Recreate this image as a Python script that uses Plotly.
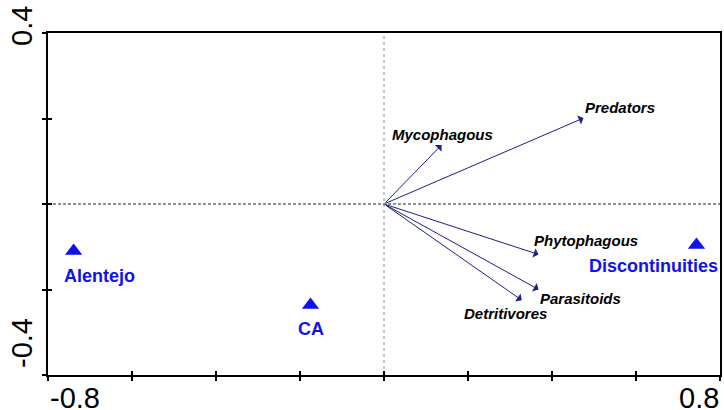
import plotly.graph_objects as go

# ---- data ----
species = ["Predators", "Mycophagous", "Phytophagous", "Parasitoids", "Detritivores"]
species_x = [0.475, 0.137, 0.368, 0.368, 0.328]
species_y = [0.201, 0.138, -0.118, -0.200, -0.225]

samples = ["Alentejo", "CA", "Discontinuities"]
samples_x = [-0.739, -0.175, 0.744]
samples_y = [-0.110, -0.236, -0.096]

x_ticks = [-0.8, -0.6, -0.4, -0.2, 0.0, 0.2, 0.4, 0.6, 0.8]
y_ticks = [-0.4, -0.2, 0.0, 0.2, 0.4]
x_tick_labels = ["-0.8", "0.8"]
y_tick_labels = ["-0.4", "0.4"]

# ---- label placement (pixel offsets from the point) ----
species_offsets = [(36, 11), (1, 11), (47, 14), (42, -9), (-16, -13)]
sample_offsets = [(26, -25), (0, -24), (-43, -21)]

ARROW = "#1f1f8a"
BLUE = "#1010f5"
FONT = "Liberation Sans, Arial, sans-serif"

fig = go.Figure()

# reference lines through the origin
fig.add_trace(go.Scatter(x=[0, 0], y=[y_ticks[0], y_ticks[-1]], mode="lines",
                         line=dict(color="#888888", width=1, dash="dot"),
                         hoverinfo="skip", showlegend=False))
fig.add_trace(go.Scatter(x=[x_ticks[0], x_ticks[-1]], y=[0, 0], mode="lines",
                         line=dict(color="#222222", width=1.2, dash="3px,2px"),
                         hoverinfo="skip", showlegend=False))

# sample triangles
fig.add_trace(go.Scatter(x=samples_x, y=samples_y, mode="markers",
                         marker=dict(symbol="triangle-up", size=15, color=BLUE,
                                     line=dict(width=0)),
                         showlegend=False, hoverinfo="skip"))

annotations = []
# species arrows
for name, sx, sy in zip(species, species_x, species_y):
    annotations.append(dict(x=sx, y=sy, ax=0, ay=0, xref="x", yref="y",
                            axref="x", ayref="y", text="", showarrow=True,
                            arrowhead=1, arrowsize=1.6, arrowwidth=1,
                            arrowcolor=ARROW, standoff=0))
# species labels
for name, sx, sy, (dx, dy) in zip(species, species_x, species_y, species_offsets):
    annotations.append(dict(x=sx, y=sy, xref="x", yref="y", text="<b><i>%s</i></b>" % name,
                            showarrow=False, xanchor="center", yanchor="middle",
                            xshift=dx, yshift=dy,
                            font=dict(family=FONT, size=15, color="black")))
# sample labels
for name, sx, sy, (dx, dy) in zip(samples, samples_x, samples_y, sample_offsets):
    annotations.append(dict(x=sx, y=sy, xref="x", yref="y", text="<b>%s</b>" % name,
                            showarrow=False, xanchor="center", yanchor="middle",
                            xshift=dx, yshift=dy,
                            font=dict(family=FONT, size=18, color=BLUE)))

# axis end labels (CANOCO style)
annotations.append(dict(x=x_ticks[0], y=y_ticks[0], xref="x", yref="y",
                        text=x_tick_labels[0], showarrow=False,
                        xanchor="left", yanchor="middle", xshift=0, yshift=-23,
                        font=dict(family=FONT, size=29, color="black")))
annotations.append(dict(x=x_ticks[-1], y=y_ticks[0], xref="x", yref="y",
                        text=x_tick_labels[1], showarrow=False,
                        xanchor="right", yanchor="middle", xshift=1, yshift=-23,
                        font=dict(family=FONT, size=29, color="black")))
annotations.append(dict(x=x_ticks[0], y=y_ticks[-1], xref="x", yref="y",
                        text=y_tick_labels[1], showarrow=False, textangle=-90,
                        xanchor="center", yanchor="middle", xshift=-26, yshift=7,
                        font=dict(family=FONT, size=29, color="black")))
annotations.append(dict(x=x_ticks[0], y=y_ticks[0], xref="x", yref="y",
                        text=y_tick_labels[0], showarrow=False, textangle=-90,
                        xanchor="center", yanchor="middle", xshift=-26, yshift=32,
                        font=dict(family=FONT, size=29, color="black")))

axis_common = dict(showgrid=False, zeroline=False, showticklabels=False,
                   ticks="outside", ticklen=4, tickwidth=1.5, tickcolor="black")

fig.update_layout(
    width=724, height=410,
    margin=dict(l=48, r=2, t=33, b=35),
    paper_bgcolor="white", plot_bgcolor="white",
    showlegend=False,
    xaxis=dict(range=[x_ticks[0], x_ticks[-1]], tickvals=x_ticks,
               showline=True, linewidth=2, linecolor="black", mirror=True,
               **axis_common),
    yaxis=dict(range=[y_ticks[0], y_ticks[-1]], tickvals=y_ticks,
               showline=True, linewidth=2, linecolor="black", mirror=True,
               **axis_common),
    xaxis2=dict(overlaying="x", matches="x", range=[x_ticks[0], x_ticks[-1]],
                tickvals=x_ticks, showgrid=False, zeroline=False, showticklabels=False,
                ticks="inside", ticklen=4, tickwidth=1.5, tickcolor="black",
                showline=False, side="bottom", anchor="y"),
    yaxis2=dict(overlaying="y", matches="y", range=[y_ticks[0], y_ticks[-1]],
                tickvals=y_ticks, showgrid=False, zeroline=False, showticklabels=False,
                ticks="inside", ticklen=4, tickwidth=1.5, tickcolor="black",
                showline=False, side="left", anchor="x"),
    annotations=annotations,
)
# invisible trace to activate the inner-tick axes
fig.add_trace(go.Scatter(x=[x_ticks[0]], y=[y_ticks[0]], xaxis="x2", yaxis="y2",
                         mode="markers", marker=dict(opacity=0), hoverinfo="skip",
                         showlegend=False))

fig.write_html("out.html", config={"displayModeBar": False},
               post_script="document.body.style.margin='0';document.body.style.overflow='hidden';")
